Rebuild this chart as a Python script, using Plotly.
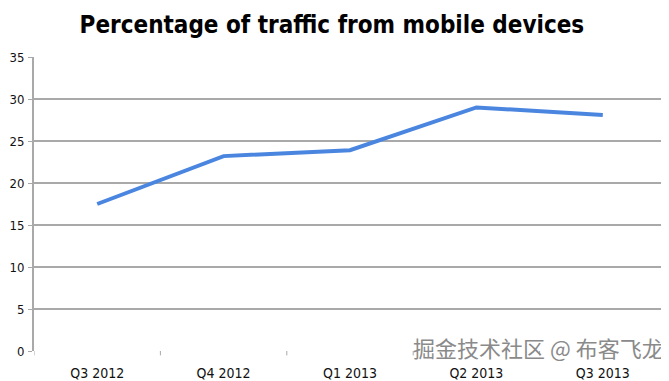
import plotly.graph_objects as go

quarters = ["Q3 2012", "Q4 2012", "Q1 2013", "Q2 2013", "Q3 2013"]
mobile_share = [17.5, 23.2, 23.9, 29.0, 28.1]
y_ticks = [0, 5, 10, 15, 20, 25, 30, 35]

FONT = "DejaVu Sans Condensed, Liberation Sans Narrow, Arial Narrow, sans-serif"

fig = go.Figure()
fig.add_trace(go.Scatter(
    x=quarters, y=mobile_share, mode="lines",
    line=dict(color="#4a86e0", width=4),
    hoverinfo="x+y",
))

# page body has an 8px margin, so the figure is sized/offset to compensate
fig.update_layout(
    width=661, height=373,
    margin=dict(l=26, r=3, t=49, b=30),
    paper_bgcolor="white", plot_bgcolor="white",
    showlegend=False,
    title=dict(
        text="<b>Percentage of traffic from mobile devices</b>",
        x=0.49, xanchor="center", yref="container", y=0.955, yanchor="middle",
        font=dict(family=FONT, size=24, color="black"),
    ),
    font=dict(family=FONT, size=14, color="#111111"),
    xaxis=dict(
        type="category", range=[-0.5, 4.5], automargin=False,
        showgrid=False, showline=False, zeroline=False,
        ticks="", tickfont=dict(size=14), ticklabelstandoff=12,
    ),
    yaxis=dict(
        range=[0, 35], tickvals=y_ticks, automargin=False,
        showgrid=True, gridcolor="#a9a9a9", gridwidth=2,
        showline=True, linecolor="#a9a9a9", linewidth=2,
        ticks="outside", ticklen=4, tickcolor="#a9a9a9", tickwidth=1,
        zeroline=False, tickfont=dict(size=13), ticklabelstandoff=1,
    ),
)

# boundary ticks on category axis
for i in range(6):
    fig.add_shape(type="line", xref="x", yref="paper",
                  x0=i - 0.5, x1=i - 0.5, y0=0, y1=-0.015,
                  line=dict(color="#a9a9a9", width=1))

fig.add_annotation(
    text="掘金技术社区 @ 布客飞龙", xref="paper", yref="paper",
    x=1.0, y=0.012, xanchor="right", yanchor="middle", showarrow=False,
    font=dict(family="Noto Sans CJK SC", size=22, color="#8a8a8a"),
)

fig.write_html("out.html")
